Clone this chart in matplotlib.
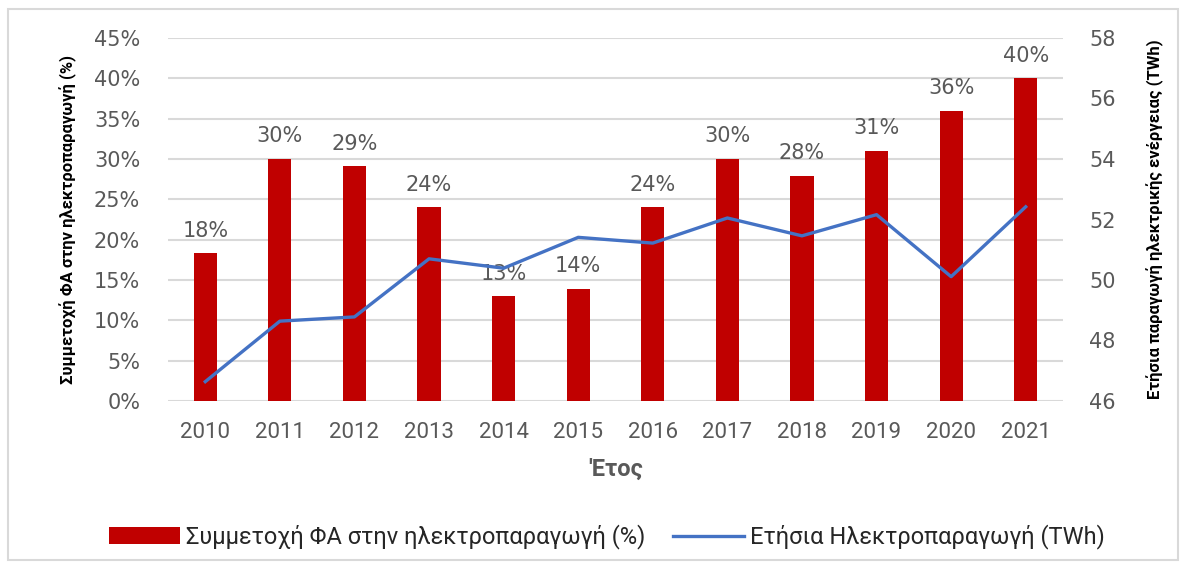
import matplotlib
matplotlib.use("Agg")
import matplotlib.pyplot as plt
import numpy as np
from matplotlib.patches import Rectangle

years = ["2010", "2011", "2012", "2013", "2014", "2015",
         "2016", "2017", "2018", "2019", "2020", "2021"]
res_share = [18.3, 30.0, 29.1, 24.0, 13.0, 13.9, 24.0, 30.0, 27.9, 31.0, 36.0, 40.0]
share_labels = ["18%", "30%", "29%", "24%", "13%", "14%",
                "24%", "30%", "28%", "31%", "36%", "40%"]
production_twh = [46.64, 48.64, 48.78, 50.70, 50.39, 51.41,
                  51.22, 52.05, 51.46, 52.16, 50.11, 52.42]

narrow = ['Roboto', 'DejaVu Sans']
gray = '#595959'

fig = plt.figure(figsize=(11.85, 5.67), dpi=100)
ax = fig.add_axes([168/1185, 1 - 401/567, (1063-168)/1185, (401-38)/567])
ax2 = ax.twinx()
ax.set_zorder(ax2.get_zorder() - 1)
ax.patch.set_visible(True)
ax2.patch.set_visible(False)

x = np.arange(len(years))
bars = ax.bar(x, res_share, width=0.31, color='#C00000', zorder=2,
              label='Συμμετοχή ΦΑ στην ηλεκτροπαραγωγή (%)')
for xi, v, lab in zip(x, res_share, share_labels):
    ax.annotate(lab, (xi, v), xytext=(0, 9), textcoords='offset points',
                ha='center', va='bottom', fontsize=15, color=gray)

line, = ax2.plot(x, production_twh, color='#4472C4', linewidth=2.4,
                 label='Ετήσια Ηλεκτροπαραγωγή (TWh)')

ax.set_xlim(-0.5, len(years) - 0.5)
ax.set_ylim(0, 45)
ax.set_yticks(np.arange(0, 46, 5))
ax.set_yticklabels([f"{t}%" for t in range(0, 46, 5)])
ax2.set_ylim(46, 58)
ax2.set_yticks(np.arange(46, 59, 2))

ax.yaxis.grid(True, color='#d9d9d9', linewidth=1.5, zorder=0)
ax.set_axisbelow(True)
for a in (ax, ax2):
    for s in a.spines.values():
        s.set_visible(False)
    a.tick_params(length=0)

ax.tick_params(axis='y', labelsize=15, labelcolor=gray, pad=20)
ax2.tick_params(axis='y', labelsize=15, labelcolor=gray, pad=19)
ax.set_xticks(x)
ax.set_xticklabels(years, family=narrow, fontsize=16, color=gray)
ax.tick_params(axis='x', pad=15)

ax.set_xlabel("'Ετος", family=narrow, fontsize=17, fontweight='bold',
              color=gray, labelpad=11)
ax.set_ylabel("Συμμετοχή ΦΑ στην ηλεκτροπαραγωγή (%)", family=narrow,
              fontsize=12, fontweight='bold', color='black', labelpad=12)
ax2.set_ylabel("Ετήσια παραγωγή ηλεκτρικής ενέργειας (TWh)", family=narrow,
               fontsize=12, fontweight='bold', color='black', labelpad=22)

fig.legend(handles=[bars, line], loc='center', bbox_to_anchor=(607/1185, 1 - 537/567),
           ncol=2, frameon=False, handlelength=3.0, handletextpad=0.25,
           columnspacing=1.2, prop={'family': narrow, 'size': 17},
           labelcolor='#262626')

fig.patches.append(Rectangle((8/1185, 7/567), 1170/1185, 551/567,
                             transform=fig.transFigure, fill=False,
                             edgecolor='#d9d9d9', linewidth=1.5))

fig.savefig('out.png', dpi=100)
